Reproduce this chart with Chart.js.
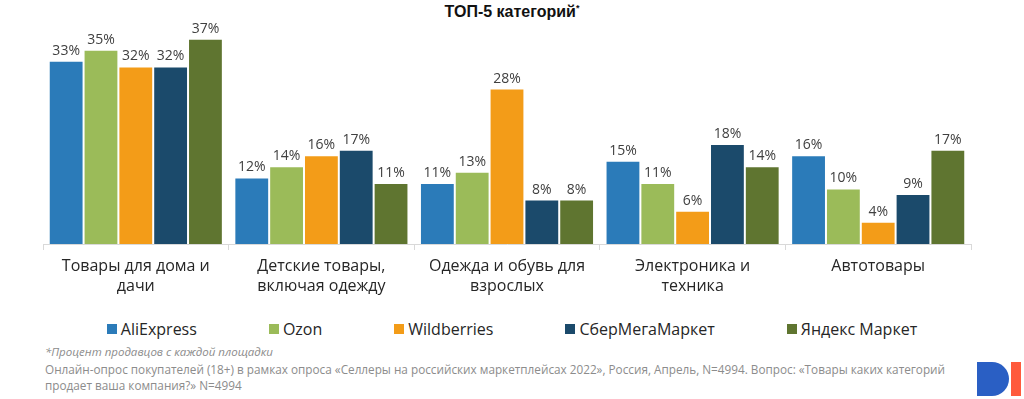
<!DOCTYPE html>
<html><head><meta charset="utf-8">
<script src="https://cdn.jsdelivr.net/npm/chart.js@4/dist/chart.umd.min.js"></script>
<style>
html,body{margin:0;padding:0;background:#fff;}
body{width:1024px;height:399px;position:relative;overflow:hidden;font-family:"Open Sans",sans-serif;}
#title{position:absolute;left:0;width:1024px;top:3px;text-align:center;font-family:"Liberation Sans Narrow","Liberation Sans",Arial,sans-serif;font-weight:bold;font-size:16px;color:#111;}
#title sup{font-size:9px;}
#wrap{position:absolute;left:0;top:0;width:1024px;height:302px;}
#legend{position:absolute;left:0;top:318px;width:1024px;display:flex;justify-content:center;font-size:16px;color:#262626;}
#legend .it{display:flex;align-items:center;margin:0 36px;}
#legend .bx{width:10px;height:10px;margin-right:4px;}
#note{position:absolute;left:45px;top:344px;font-size:11.5px;font-style:italic;color:#8c8c8c;}
#src{position:absolute;left:45px;top:361px;width:920px;font-size:11.75px;line-height:16px;color:#8c8c8c;}
#logoD{position:absolute;left:977px;top:362px;width:32px;height:34px;background:#2a5fc4;border-radius:0 17px 17px 0;}
#logoI{position:absolute;left:1011px;top:362px;width:10px;height:34px;background:#ff5a3c;}
</style></head>
<body>
<div id="title">ТОП-5 категорий<sup>*</sup></div>
<div id="wrap"><canvas id="c"></canvas></div>
<div id="legend"></div>
<div id="note">*Процент продавцов с каждой площадки</div>
<div id="src">Онлайн-опрос покупателей (18+) в рамках опроса «Селлеры на российских маркетплейсах 2022», Россия, Апрель, N=4994. Вопрос: «Товары каких категорий продает ваша компания?» N=4994</div>
<div id="logoD"></div><div id="logoI"></div>
<script>
const categories = [
  ['Товары для дома и','дачи'],
  ['Детские товары,','включая одежду'],
  ['Одежда и обувь для','взрослых'],
  ['Электроника и','техника'],
  ['Автотовары']
];
const seriesNames = ['AliExpress','Ozon','Wildberries','СберМегаМаркет','Яндекс Маркет'];
const aliexpress = [33,12,11,15,16];
const ozon = [35,14,13,11,10];
const wildberries = [32,16,28,6,4];
const sber = [32,17,8,18,9];
const yandex = [37,11,8,14,17];
const colors = ['#2b7bb9','#9bbb59','#f39c18','#1b4a6b','#5f7530'];
const seriesValues = [aliexpress, ozon, wildberries, sber, yandex];

const lg = document.getElementById('legend');
seriesNames.forEach((n,i)=>{
  const d=document.createElement('div');d.className='it';
  d.innerHTML='<span class="bx" style="background:'+colors[i]+'"></span><span>'+n+'</span>';
  lg.appendChild(d);
});

const labelPlugin = {
  id:'barLabels',
  afterDatasetsDraw(chart){
    const ctx=chart.ctx;
    ctx.save();
    ctx.font='14px "Open Sans", sans-serif';
    ctx.fillStyle='#404040';
    ctx.textAlign='center';
    ctx.textBaseline='bottom';
    chart.data.datasets.forEach((ds,i)=>{
      const meta=chart.getDatasetMeta(i);
      meta.data.forEach((bar,j)=>{
        ctx.fillText(ds.data[j]+'%', bar.x, bar.y-3);
      });
    });
    ctx.restore();
  }
};

new Chart(document.getElementById('c'),{
  type:'bar',
  data:{
    labels:categories,
    datasets:seriesValues.map((v,i)=>({
      label:seriesNames[i], data:v, backgroundColor:colors[i],
      borderColor:'rgba(255,255,255,0.7)', borderWidth:1,
      categoryPercentage:0.938, barPercentage:1
    }))
  },
  options:{
    responsive:true, maintainAspectRatio:false, animation:false,
    layout:{padding:{left:43,right:53,top:22,bottom:0}},
    plugins:{legend:{display:false},tooltip:{enabled:false}},
    scales:{
      y:{display:false,min:0,max:40},
      x:{
        grid:{display:true,drawOnChartArea:false,offset:true,color:'#d9d9d9',tickLength:6},
        border:{display:true,color:'#d9d9d9'},
        ticks:{color:'#262626',font:{family:'"Open Sans", sans-serif',size:16,lineHeight:1.25},padding:6,maxRotation:0}
      }
    }
  },
  plugins:[labelPlugin]
});
</script>
</body></html>
